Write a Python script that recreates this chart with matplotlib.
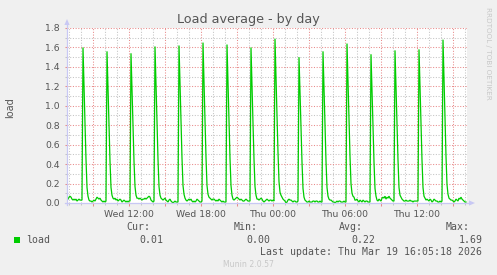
import matplotlib
matplotlib.use("Agg")
import matplotlib.pyplot as plt
import matplotlib.dates as mdates
from matplotlib.ticker import MultipleLocator, FuncFormatter, FixedLocator
from matplotlib.patches import Polygon, Rectangle
from matplotlib.lines import Line2D
import pandas as pd

# ---------------- data ----------------
title = "Load average - by day"
y_label = "load"
series_name = "load"
start_time = "2026-03-18 06:50"
sample_step = "5min"

y_ticks = [0.0, 0.2, 0.4, 0.6, 0.8, 1.0, 1.2, 1.4, 1.6, 1.8]

# 5-minute samples of the load
load = [
    0.03, 0.04, 0.06, 0.07, 0.06, 0.04, 0.03, 0.04, 0.03, 0.04, 0.02, 0.03, 0.04, 0.03, 0.03, 0.03,
    1.60, 1.20, 0.82, 0.45, 0.16, 0.07, 0.03, 0.02, 0.02, 0.01, 0.02, 0.03, 0.02, 0.04, 0.06, 0.05, 0.04, 0.05, 0.03, 0.02, 0.01, 0.02, 0.01, 0.02,
    1.56, 1.17, 0.80, 0.43, 0.16, 0.08, 0.05, 0.04, 0.05, 0.03, 0.04, 0.02, 0.03, 0.04, 0.03, 0.01, 0.02, 0.03, 0.02, 0.01, 0.02, 0.01, 0.02, 0.02,
    1.54, 1.16, 0.79, 0.43, 0.17, 0.08, 0.05, 0.05, 0.04, 0.05, 0.04, 0.03, 0.04, 0.04, 0.05, 0.04, 0.05, 0.06, 0.07, 0.06, 0.03, 0.02, 0.01, 0.02,
    1.61, 1.21, 0.83, 0.45, 0.17, 0.08, 0.05, 0.04, 0.03, 0.04, 0.05, 0.03, 0.02, 0.01, 0.03, 0.04, 0.02, 0.01, 0.00, 0.01, 0.02, 0.01, 0.01, 0.01,
    1.62, 1.22, 0.84, 0.46, 0.18, 0.09, 0.05, 0.03, 0.02, 0.03, 0.04, 0.03, 0.04, 0.02, 0.01, 0.02, 0.01, 0.02, 0.04, 0.03, 0.02, 0.01, 0.01, 0.02,
    1.65, 1.24, 0.85, 0.47, 0.18, 0.09, 0.06, 0.05, 0.04, 0.03, 0.04, 0.04, 0.03, 0.02, 0.03, 0.02, 0.04, 0.03, 0.02, 0.01, 0.02, 0.01, 0.01, 0.01,
    1.63, 1.23, 0.84, 0.46, 0.18, 0.08, 0.04, 0.03, 0.04, 0.05, 0.06, 0.05, 0.04, 0.03, 0.04, 0.03, 0.02, 0.02, 0.03, 0.04, 0.03, 0.02, 0.02, 0.02,
    1.60, 1.20, 0.82, 0.45, 0.17, 0.08, 0.04, 0.04, 0.03, 0.04, 0.05, 0.04, 0.02, 0.01, 0.02, 0.03, 0.04, 0.03, 0.02, 0.03, 0.03, 0.02, 0.03, 0.02,
    1.69, 1.28, 0.90, 0.52, 0.22, 0.11, 0.08, 0.06, 0.04, 0.03, 0.02, 0.00, 0.01, 0.03, 0.04, 0.03, 0.03, 0.02, 0.01, 0.02, 0.02, 0.01, 0.01, 0.02,
    1.50, 1.13, 0.77, 0.42, 0.15, 0.06, 0.03, 0.02, 0.01, 0.01, 0.02, 0.01, 0.01, 0.01, 0.02, 0.02, 0.01, 0.02, 0.02, 0.01, 0.01, 0.02, 0.01, 0.01,
    1.56, 1.17, 0.80, 0.43, 0.16, 0.07, 0.04, 0.03, 0.03, 0.02, 0.01, 0.01, 0.00, 0.01, 0.02, 0.01, 0.02, 0.02, 0.01, 0.01, 0.01, 0.02, 0.01, 0.01,
    1.64, 1.24, 0.85, 0.48, 0.20, 0.10, 0.07, 0.06, 0.03, 0.03, 0.04, 0.02, 0.01, 0.03, 0.02, 0.01, 0.03, 0.02, 0.01, 0.02, 0.02, 0.01, 0.01, 0.01,
    1.53, 1.15, 0.78, 0.42, 0.15, 0.07, 0.03, 0.02, 0.04, 0.03, 0.02, 0.05, 0.06, 0.05, 0.07, 0.04, 0.06, 0.05, 0.07, 0.05, 0.04, 0.03, 0.02, 0.02,
    1.57, 1.18, 0.81, 0.44, 0.16, 0.08, 0.06, 0.04, 0.03, 0.02, 0.02, 0.03, 0.02, 0.02, 0.02, 0.03, 0.02, 0.02, 0.01, 0.02, 0.02, 0.02, 0.02, 0.02,
    1.58, 1.19, 0.81, 0.44, 0.16, 0.07, 0.05, 0.03, 0.04, 0.03, 0.02, 0.04, 0.03, 0.01, 0.02, 0.04, 0.03, 0.02, 0.02, 0.01, 0.01, 0.02, 0.01, 0.02,
    1.68, 1.27, 0.87, 0.48, 0.19, 0.09, 0.05, 0.04, 0.03, 0.03, 0.02, 0.01, 0.02, 0.04, 0.03, 0.02, 0.05, 0.04, 0.06, 0.04, 0.03, 0.02, 0.01, 0.01,
]

stat_labels = ["Cur:", "Min:", "Avg:", "Max:"]
stat_values = ["0.01", "0.00", "0.22", "1.69"]
last_update = "Last update: Thu Mar 19 16:05:18 2026"
watermark = "RRDTOOL / TOBI OETIKER"
footer = "Munin 2.0.57"

# ---------------- style ----------------
W, H = 497, 275
BG = "#F0F0F0"
LINE = "#00CC00"
MGRID = "#E88A8A"
MINGRID = "#C4C4C4"
AXIS = "#C8C8F4"
TXT = "#555555"

def fx(x):
    return x / W

def fy(y):
    return 1 - y / H

times = pd.date_range(start_time, periods=len(load), freq=sample_step)
step_td = pd.Timedelta(sample_step)

fig = plt.figure(figsize=(W / 100, H / 100), dpi=100, facecolor=BG)
L, R, T, B = 67, 467, 28, 203
ax = fig.add_axes([fx(L), fy(B), (R - L) / W, (B - T) / H])
ax.set_facecolor("white")
ax.plot(times, load, color=LINE, lw=0.9, solid_joinstyle="miter", zorder=3)
ax.set_xlim(times[0], times[0] + step_td * len(load))
ax.set_ylim(0, 1.8)

for s in ax.spines.values():
    s.set_visible(False)

ax.xaxis.set_major_locator(mdates.HourLocator(byhour=range(0, 24, 3)))
ax.xaxis.set_minor_locator(mdates.HourLocator(byhour=range(24)))

def xfmt(x, pos):
    d = mdates.num2date(x)
    return d.strftime("%a %H:%M") if d.hour % 6 == 0 else ""

ax.xaxis.set_major_formatter(FuncFormatter(xfmt))
ax.yaxis.set_major_locator(FixedLocator(y_ticks))
ax.yaxis.set_minor_locator(MultipleLocator(0.1))
ax.yaxis.set_major_formatter(FuncFormatter(lambda v, p: f"{v:.1f}"))

dash = (0, (1, 1.6))
ax.set_axisbelow(True)
ax.grid(which="major", color=MGRID, linestyle=dash, linewidth=0.75)
ax.grid(which="minor", color=MINGRID, linestyle=dash, linewidth=0.75)

ax.tick_params(axis="x", which="major", length=2.2, width=0.75, color=MGRID,
               labelsize=6.7, labelcolor=TXT, pad=2.6)
ax.tick_params(axis="x", which="minor", length=1.6, width=0.75, color=MINGRID)
ax.tick_params(axis="y", which="major", length=1.6, width=0.75, color=MGRID,
               labelsize=6.7, labelcolor=TXT, pad=3.6)
ax.tick_params(axis="y", which="minor", length=1.6, width=0.75, color=MINGRID)

# axes lines with arrows (rrdtool style)
fig.add_artist(Line2D([fx(L), fx(L)], [fy(B + 2), fy(24)], color=AXIS, lw=0.9))
fig.add_artist(Line2D([fx(L - 2), fx(470)], [fy(B), fy(B)], color=AXIS, lw=0.9))
fig.add_artist(Polygon([[fx(L), fy(19)], [fx(L - 2.6), fy(25)], [fx(L + 2.6), fy(25)]],
                       closed=True, transform=fig.transFigure, color=AXIS, lw=0))
fig.add_artist(Polygon([[fx(475), fy(B)], [fx(469), fy(B - 2.6)], [fx(469), fy(B + 2.6)]],
                       closed=True, transform=fig.transFigure, color=AXIS, lw=0))

# texts
fig.text(fx(248.5), fy(19.5), title, ha="center", va="center", fontsize=9.2, color=TXT)
fig.text(fx(10), fy(108), y_label, ha="center", va="center", rotation=90,
         fontsize=7, color=TXT)
fig.text(fx(488), fy(53), watermark, ha="center", va="center", rotation=-90,
         fontsize=5.2, color="#C8C8C8")

mono = "DejaVu Sans Mono"
fs = 7.1
fig.add_artist(Rectangle((fx(14), fy(243)), 6 / W, 6 / H, transform=fig.transFigure,
                         color=LINE, lw=0))
fig.text(fx(26.5), fy(240), series_name, ha="left", va="center", family=mono,
         fontsize=fs, color=TXT)
label_right = [150, 258, 363, 470]
value_right = [163, 270.5, 375, 482.5]
for lab, val, xl, xv in zip(stat_labels, stat_values, label_right, value_right):
    fig.text(fx(xl), fy(227.5), lab, ha="right", va="center", family=mono,
             fontsize=fs, color=TXT)
    fig.text(fx(xv), fy(240), val, ha="right", va="center", family=mono,
             fontsize=fs, color=TXT)
fig.text(fx(482.5), fy(252), last_update, ha="right", va="center", family=mono,
         fontsize=fs, color=TXT)
fig.text(fx(248), fy(264.5), footer, ha="center", va="center", fontsize=5.6,
         color="#C8C8C8")

fig.savefig("out.png", dpi=100, facecolor=BG)
